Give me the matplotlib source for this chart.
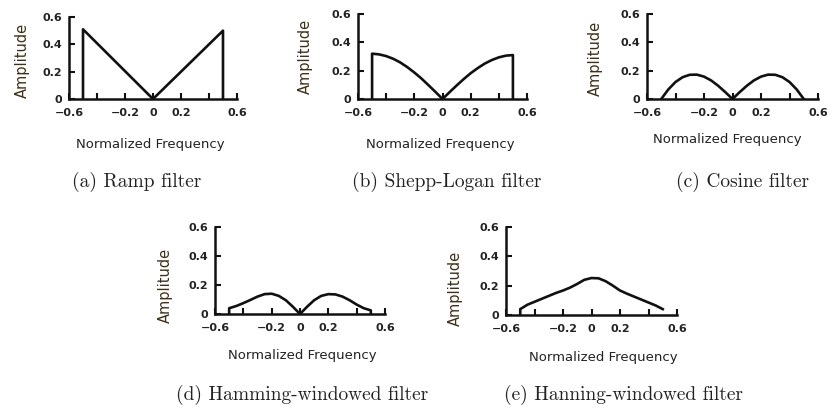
import matplotlib
matplotlib.use("Agg")
import matplotlib.pyplot as plt

W, H = 827, 408

# ---------------- data ----------------
ramp_x = [-0.5, -0.5, 0.0, 0.5, 0.5]
ramp_y = [0.0, 0.51, 0.0, 0.5, 0.0]

shepp_x = [-0.5, -0.5, -0.45, -0.4, -0.35, -0.3, -0.25, -0.2, -0.15, -0.1, -0.05, 0.0,
           0.05, 0.1, 0.15, 0.2, 0.25, 0.3, 0.35, 0.4, 0.45, 0.5, 0.5]
shepp_y = [0.0, 0.32, 0.315, 0.303, 0.284, 0.258, 0.225, 0.187, 0.145, 0.098, 0.05, 0.0,
           0.048, 0.095, 0.14, 0.182, 0.218, 0.25, 0.275, 0.294, 0.306, 0.31, 0.0]

cosine_x = [-0.5, -0.45, -0.4, -0.35, -0.3, -0.25, -0.2, -0.15, -0.1, -0.05, 0.0,
            0.05, 0.1, 0.15, 0.2, 0.25, 0.3, 0.35, 0.4, 0.45, 0.5]
cosine_y = [0.0, 0.068, 0.12, 0.154, 0.171, 0.172, 0.158, 0.131, 0.093, 0.048, 0.0,
            0.048, 0.093, 0.131, 0.158, 0.172, 0.171, 0.154, 0.12, 0.068, 0.0]

hamming_x = [-0.5, -0.5, -0.45, -0.4, -0.35, -0.3, -0.25, -0.2, -0.15, -0.1, -0.05, 0.0,
             0.05, 0.1, 0.15, 0.2, 0.25, 0.3, 0.35, 0.4, 0.45, 0.5, 0.5]
hamming_y = [0.0, 0.04, 0.055, 0.075, 0.097, 0.12, 0.137, 0.14, 0.125, 0.095, 0.05, 0.0,
             0.05, 0.095, 0.125, 0.137, 0.135, 0.12, 0.095, 0.065, 0.04, 0.025, 0.0]

hanning_x = [-0.5, -0.5, -0.45, -0.4, -0.35, -0.3, -0.25, -0.2, -0.15, -0.1, -0.05, 0.0,
             0.05, 0.1, 0.15, 0.2, 0.25, 0.3, 0.35, 0.4, 0.45, 0.5]
hanning_y = [0.0, 0.04, 0.07, 0.09, 0.11, 0.13, 0.15, 0.167, 0.187, 0.212, 0.24, 0.252,
             0.25, 0.23, 0.2, 0.167, 0.145, 0.125, 0.105, 0.085, 0.065, 0.04]

xticks = [-0.6, -0.4, -0.2, 0.0, 0.2, 0.4, 0.6]
xticklabels = ["\u22120.6", "", "\u22120.2", "0", "0.2", "", "0.6"]
yticks = [0.0, 0.2, 0.4, 0.6]
yticklabels = ["0", "0.2", "0.4", "0.6"]

captions = ["(a) Ramp filter", "(b) Shepp-Logan filter", "(c) Cosine filter",
            "(d) Hamming-windowed filter", "(e) Hanning-windowed filter"]
xlabel = "Normalized Frequency"
ylabel = "Amplitude"

series = [(ramp_x, ramp_y), (shepp_x, shepp_y), (cosine_x, cosine_y),
          (hamming_x, hamming_y), (hanning_x, hanning_y)]

# ---------------- layout (pixel boxes: left, right, top, bottom) ----------------
boxes = [(69, 237, 17, 99), (358, 527, 14, 99), (647, 818, 14, 99),
         (215, 385, 227, 314), (506, 677, 227, 315)]
ylabel_pos = [(22, 60), (305, 56), (595, 58), (165, 285), (455, 288)]
xlabel_pos = [(150, 144), (440, 144), (727, 140), (302, 356), (603, 357)]
caption_pos = [(137, 182), (447, 182), (742, 182), (302, 395), (623, 395)]

fig = plt.figure(figsize=(W / 100, H / 100), dpi=100)
fig.patch.set_facecolor("white")

for i, (xs, ys) in enumerate(series):
    l, r, t, b = boxes[i]
    ax = fig.add_axes([l / W, 1 - b / H, (r - l) / W, (b - t) / H])
    ax.plot(xs, ys, color="#111111", lw=1.9, solid_joinstyle="round")
    ax.set_xlim(-0.6, 0.6)
    ax.set_ylim(0, 0.6)
    for s in ("top", "right"):
        ax.spines[s].set_visible(False)
    for s in ("left", "bottom"):
        ax.spines[s].set_linewidth(1.8)
        ax.spines[s].set_color("#111111")
    ax.set_xticks(xticks)
    ax.set_xticklabels(xticklabels)
    ax.set_yticks(yticks)
    ax.set_yticklabels(yticklabels)
    ax.tick_params(direction="in", length=4, width=1.5, color="#111111",
                   labelsize=8, labelcolor="#222222")
    ax.tick_params(axis="x", pad=6.5)
    ax.tick_params(axis="y", pad=5)
    for lab in ax.get_xticklabels() + ax.get_yticklabels():
        lab.set_fontweight("bold")
        lab.set_fontfamily("DejaVu Sans")
    ax.patch.set_alpha(0)

    x, y = ylabel_pos[i]
    fig.text(x / W, 1 - y / H, ylabel, rotation=90, ha="center", va="center",
             fontsize=10.5, color="#3d3018", family="DejaVu Sans")
    x, y = xlabel_pos[i]
    fig.text(x / W, 1 - y / H, xlabel, ha="center", va="center",
             fontsize=9.5, color="#222222", family="DejaVu Sans")
    x, y = caption_pos[i]
    fig.text(x / W, 1 - y / H, captions[i], ha="center", va="center",
             fontsize=14, color="#222222", family="cmr10")

fig.savefig("out.png", dpi=100, facecolor="white")
